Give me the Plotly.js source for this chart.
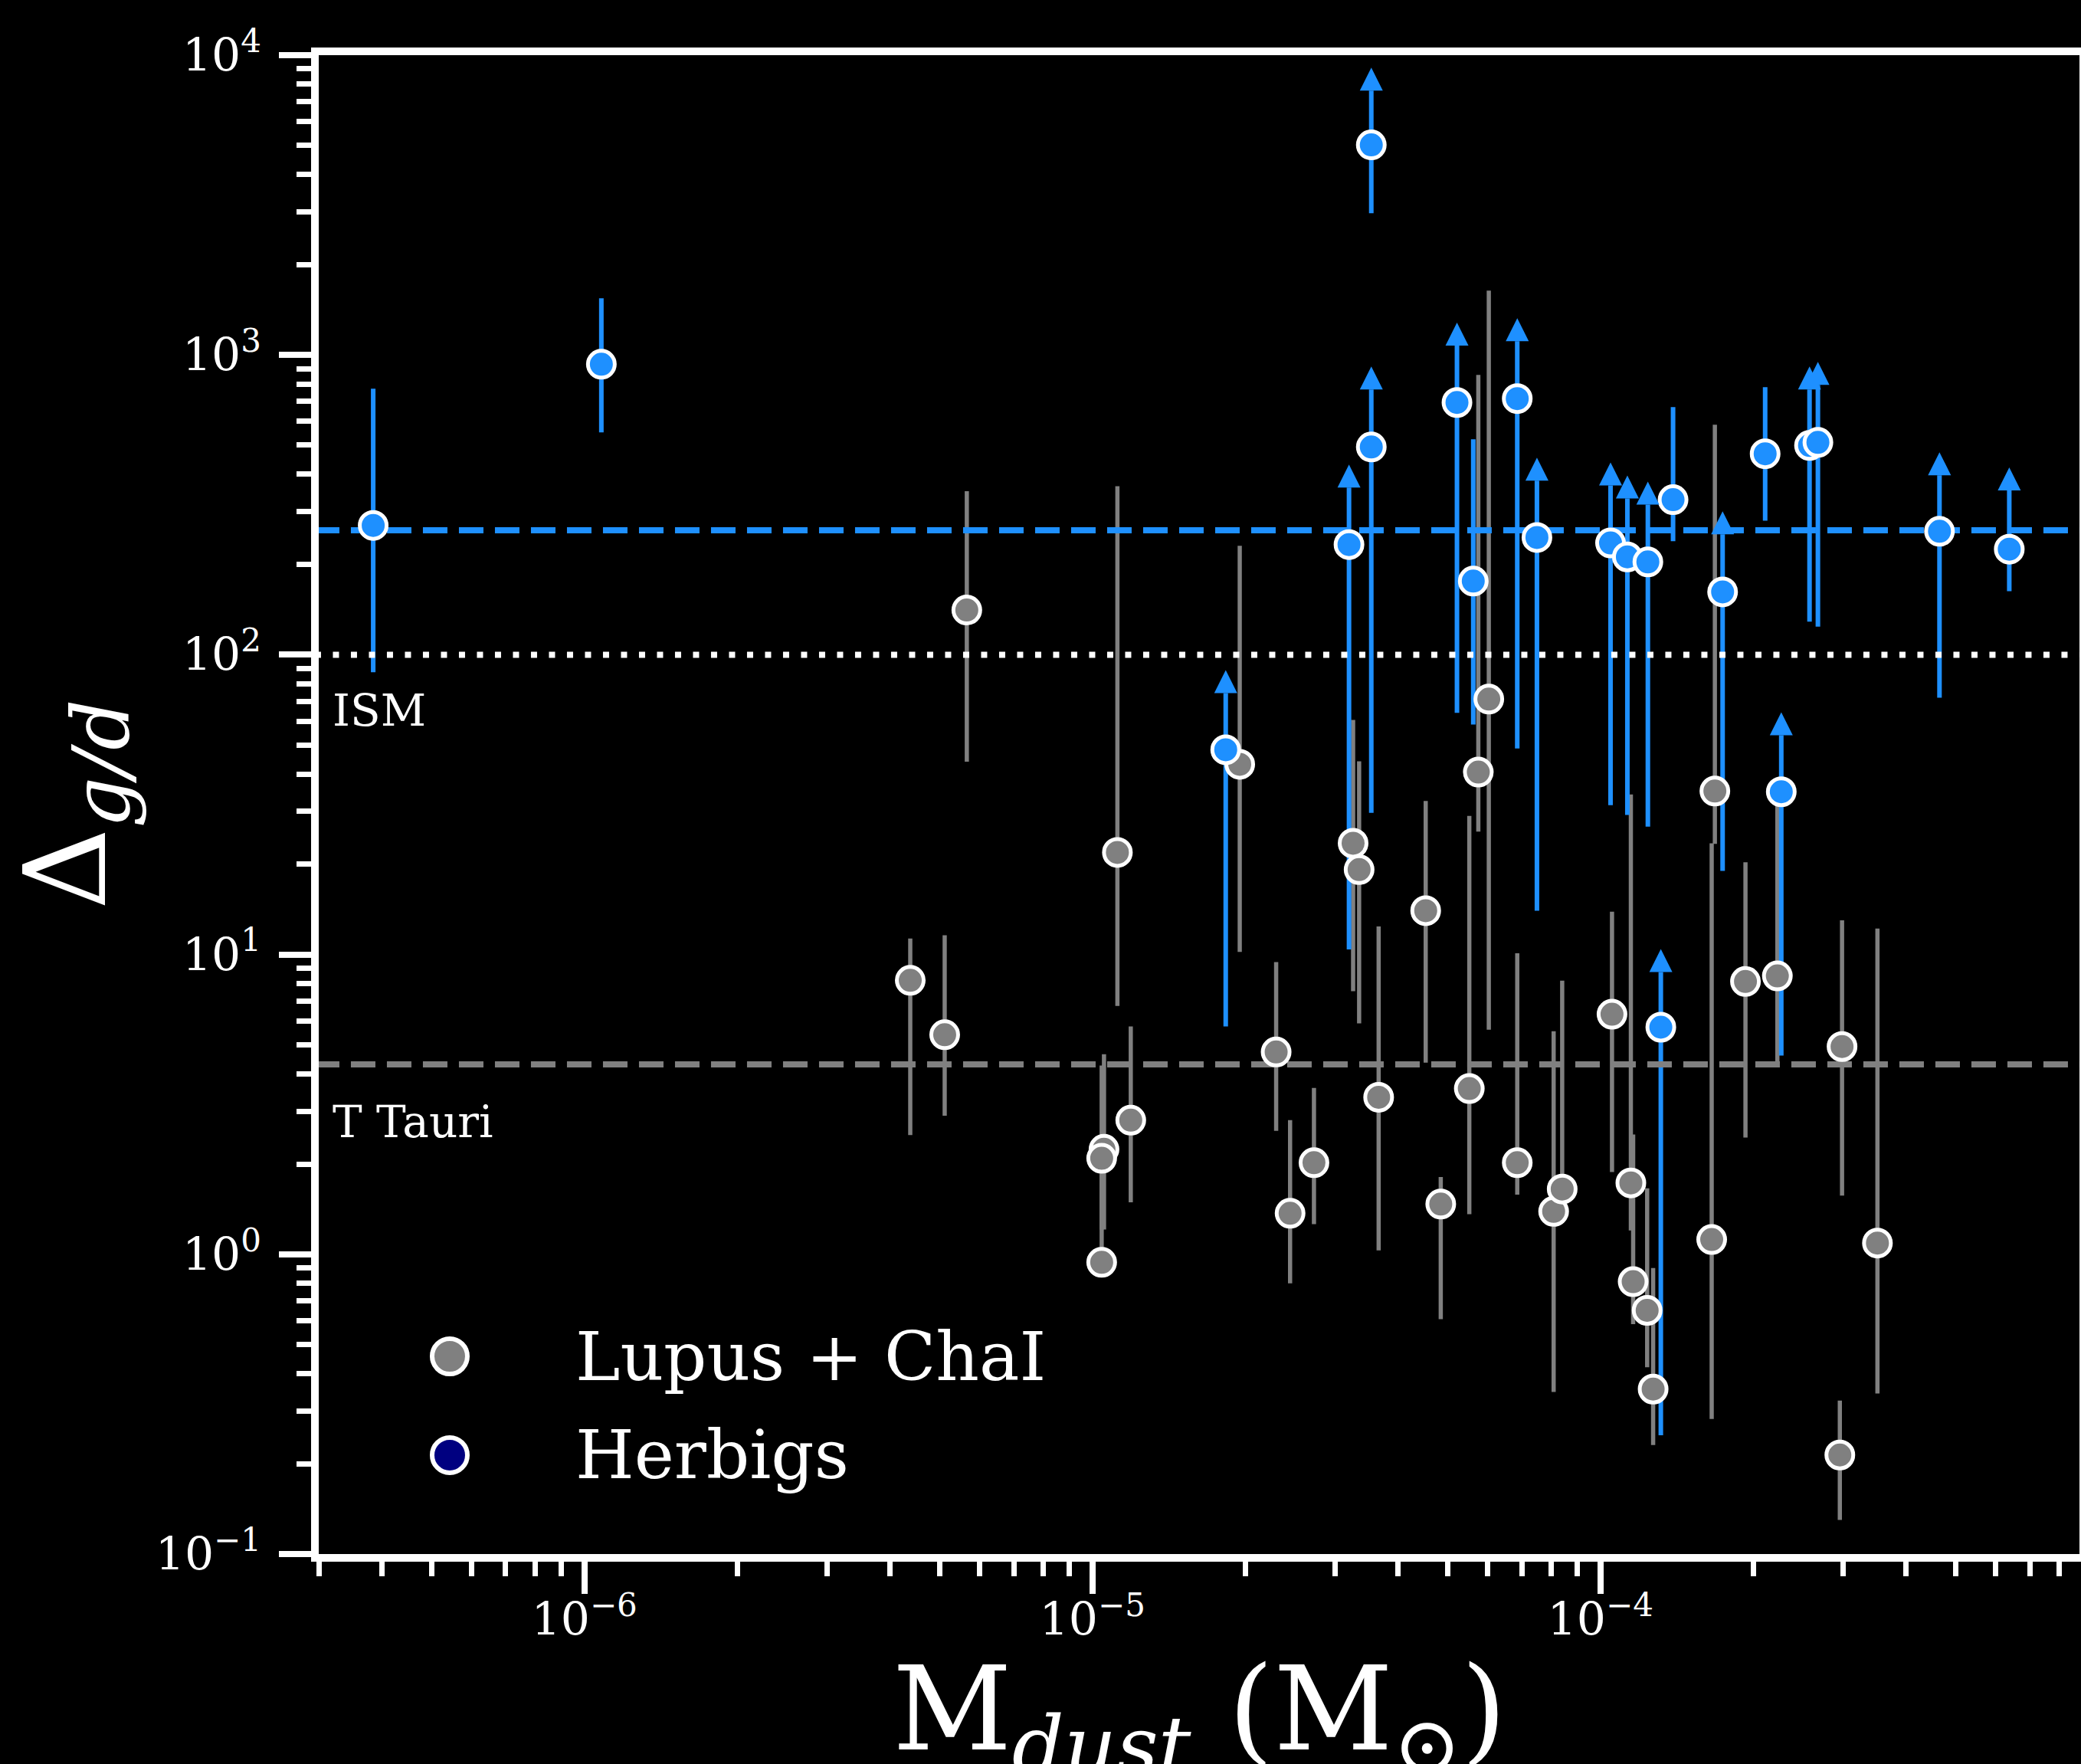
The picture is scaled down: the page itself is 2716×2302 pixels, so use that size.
<!DOCTYPE html>
<html>
<head>
<meta charset="utf-8">
<script src="https://cdn.plot.ly/plotly-3.0.1.min.js"></script>
<style>html,body{margin:0;padding:0;background:#000;}</style>
</head>
<body>
<div id="chart" style="width:2716px;height:2302px;"></div>
<script>
// ---------- data ----------
// Lupus + ChaI : dust mass, gas-to-dust ratio, error-bar bottom, error-bar top
const lupusMdust = [4.38e-6, 5.12e-6, 5.66e-6, 1.054e-5, 1.043e-5, 1.043e-5, 1.12e-5, 1.19e-5, 1.95e-5, 2.30e-5,
                    2.45e-5, 2.73e-5, 3.26e-5, 3.35e-5, 3.66e-5, 4.53e-5, 4.85e-5, 5.52e-5, 5.75e-5, 6.03e-5,
                    6.86e-5, 8.09e-5, 8.41e-5, 1.054e-4, 1.148e-4, 1.16e-4, 1.236e-4, 1.27e-4, 1.656e-4, 1.68e-4,
                    1.93e-4, 2.23e-4, 2.99e-4, 3.51e-4, 2.96e-4];
const lupusGD    = [8.2, 5.4, 141, 2.24, 2.09, 0.94, 21.9, 2.80, 43.1, 4.73,
                    1.37, 2.02, 23.5, 19.2, 3.34, 14.0, 1.47, 3.57, 40.6, 71.1,
                    2.02, 1.39, 1.65, 6.32, 1.73, 0.81, 0.65, 0.355, 1.12, 35.1,
                    8.13, 8.48, 4.93, 1.09, 0.214];
const lupusLow   = [2.5, 2.9, 44, 1.21, 1.21, 0.90, 6.74, 1.49, 10.2, 2.58,
                    0.80, 1.26, 7.54, 5.89, 1.03, 4.36, 0.607, 1.36, 25.7, 5.61,
                    1.58, 0.347, 1.55, 1.88, 1.2, 0.585, 0.42, 0.231, 0.282, 23.4,
                    2.45, 4.36, 1.57, 0.343, 0.130];
const lupusHigh  = [11.3, 11.6, 351, 4.65, 4.26, 1.9, 365, 5.75, 231, 9.43,
                    2.80, 3.59, 60.6, 44.1, 12.4, 32.5, 1.81, 29.0, 858, 1640,
                    10.1, 5.55, 8.18, 13.9, 34.2, 2.51, 1.66, 0.9, 23.5, 585,
                    20.3, 31.7, 13.0, 12.2, 0.325];

// Herbigs : dust mass, gas-to-dust ratio, error-bar bottom, error-bar top, lower limit flag
const herbigMdust = [3.84e-7, 1.08e-6, 3.54e-5, 3.54e-5, 3.20e-5, 5.22e-5, 5.62e-5, 6.86e-5, 7.50e-5, 1.047e-4,
                     1.13e-4, 1.24e-4, 1.39e-4, 1.74e-4, 2.11e-4, 2.58e-4, 2.68e-4, 4.65e-4, 6.38e-4, 1.83e-5,
                     1.315e-4, 2.27e-4];
const herbigGD    = [270, 931, 5020, 493, 233, 694, 176, 715, 246, 236,
                     212, 204, 329, 162, 468, 499, 511, 258, 225, 48.2,
                     5.72, 34.9];
const herbigLow   = [87.4, 552, 2972, 29.7, 10.4, 64, 58.5, 48.7, 14.0, 31.5,
                     29.2, 26.7, 239, 19.0, 280, 129, 124, 71.9, 163, 5.75,
                     0.249, 4.60];
const herbigHigh  = [772, 1546, 7620, 767, 361, 1074, 523, 1112, 381, 367,
                     332, 317, 670, 252, 781, 767, 795, 397, 353, 74.5,
                     8.74, 53.9];
const herbigLowerLimit = [0, 0, 1, 1, 1, 1, 0, 1, 1, 1,
                          1, 1, 0, 1, 0, 1, 1, 1, 1, 1,
                          1, 1];

// reference levels
const herbigMean = 260;
const ismLevel = 100;
const tTauriMean = 4.3;

// axis ranges and tick labels
const xRange = [3e-7, 8.77e-4];
const yRange = [1e-1, 1e4];
const xTickVals = [1e-6, 1e-5, 1e-4];
const xTickText = ['10<sup>−6</sup>', '10<sup>−5</sup>', '10<sup>−4</sup>'];
const yTickVals = [1e-1, 1e0, 1e1, 1e2, 1e3, 1e4];
const yTickText = ['10<sup>−1</sup>', '10<sup>0</sup>', '10<sup>1</sup>', '10<sup>2</sup>', '10<sup>3</sup>', '10<sup>4</sup>'];

const seriesNames = ['Lupus + ChaI', 'Herbigs'];
const refLabels = ['ISM', 'T Tauri'];
const xTitle = 'M<sub><i>dust</i></sub> (M<sub>⊙</sub>)';
const yTitle = 'Δ<sub><i>g/d</i></sub>';

// ---------- styles ----------
const GRAY = '#808080';
const BLUE = '#1E90FF';
const NAVY = '#000080';
const FONT = 'DejaVu Serif';

const plus  = (v, hi) => hi.map((h, i) => h - v[i]);
const minus = (v, lo) => lo.map((l, i) => v[i] - l);

const traces = [];

// error bars (drawn first, beneath reference lines)
traces.push({
  type: 'scatter', mode: 'markers', x: lupusMdust, y: lupusGD,
  marker: {size: 35, opacity: 0}, hoverinfo: 'skip', showlegend: false,
  error_y: {type: 'data', symmetric: false, array: plus(lupusGD, lupusHigh), arrayminus: minus(lupusGD, lupusLow),
            color: GRAY, thickness: 5.5, width: 0}
});
traces.push({
  type: 'scatter', mode: 'markers', x: herbigMdust, y: herbigGD,
  marker: {size: 35, opacity: 0}, hoverinfo: 'skip', showlegend: false,
  error_y: {type: 'data', symmetric: false, array: plus(herbigGD, herbigHigh), arrayminus: minus(herbigGD, herbigLow),
            color: BLUE, thickness: 6, width: 0}
});

// reference lines
const lineX = [xRange[0] / 10, xRange[1] * 10];
traces.push({type: 'scatter', mode: 'lines', x: lineX, y: [herbigMean, herbigMean], hoverinfo: 'skip', showlegend: false,
             line: {color: BLUE, width: 8, dash: '32px,15px'}});
traces.push({type: 'scatter', mode: 'lines', x: lineX, y: [ismLevel, ismLevel], hoverinfo: 'skip', showlegend: false,
             line: {color: '#ffffff', width: 8, dash: '8px,15.5px'}});
traces.push({type: 'scatter', mode: 'lines', x: lineX, y: [tTauriMean, tTauriMean], hoverinfo: 'skip', showlegend: false,
             line: {color: GRAY, width: 8, dash: '32px,15px'}});

// markers
traces.push({
  type: 'scatter', mode: 'markers', name: seriesNames[0], x: lupusMdust, y: lupusGD,
  marker: {size: 35, color: GRAY, line: {color: '#ffffff', width: 5}}
});
traces.push({
  type: 'scatter', mode: 'markers', name: seriesNames[1], x: herbigMdust, y: herbigGD,
  marker: {size: 35, color: BLUE, line: {color: '#ffffff', width: 5}}
});

// lower-limit arrow heads at the top of the Herbig error bars
const limX = herbigMdust.filter((_, i) => herbigLowerLimit[i]);
const limY = herbigHigh.filter((_, i) => herbigLowerLimit[i]);
traces.push({
  type: 'scatter', mode: 'markers', x: limX, y: limY, hoverinfo: 'skip', showlegend: false,
  marker: {symbol: 'arrow-down', angle: 180, standoff: 30, size: 30, color: BLUE, line: {width: 0}}
});

const axisCommon = {
  type: 'log', showline: true, linecolor: '#ffffff', linewidth: 10, mirror: true,
  ticks: 'outside', ticklen: 42, tickwidth: 8, tickcolor: '#ffffff',
  tickmode: 'array', showgrid: false, zeroline: false,
  tickfont: {family: FONT, size: 60, color: '#ffffff'},
  minor: {tickmode: 'linear', ticks: 'outside', ticklen: 19, tickwidth: 7, tickcolor: '#ffffff', dtick: 'D1', showgrid: false},
  automargin: false
};

const layout = {
  width: 2716, height: 2302,
  paper_bgcolor: '#000000', plot_bgcolor: '#000000',
  margin: {l: 416, r: 2, t: 72, b: 274, pad: 0},
  showlegend: false,
  font: {family: FONT, color: '#ffffff'},
  xaxis: Object.assign({}, axisCommon, {
    range: xRange.map(Math.log10),
    tickvals: xTickVals, ticktext: xTickText, ticklabelstandoff: -18
  }),
  yaxis: Object.assign({}, axisCommon, {
    range: yRange.map(Math.log10),
    tickvals: yTickVals, ticktext: yTickText, ticklabelstandoff: 11,
    title: {text: yTitle, font: {family: FONT, size: 148, color: '#ffffff'}, standoff: 22}
  }),
  shapes: [
    {type: 'circle', xref: 'paper', yref: 'paper', xsizemode: 'pixel', ysizemode: 'pixel',
     xanchor: 0.0744, yanchor: 0.1319, x0: -23, x1: 23, y0: -23, y1: 23,
     fillcolor: GRAY, line: {color: '#ffffff', width: 6}},
    {type: 'circle', xref: 'paper', yref: 'paper', xsizemode: 'pixel', ysizemode: 'pixel',
     xanchor: 0.0744, yanchor: 0.0660, x0: -23, x1: 23, y0: -23, y1: 23,
     fillcolor: NAVY, line: {color: '#ffffff', width: 6}}
  ],
  annotations: [
    // x-axis title (placed as an annotation so it can sit at the very bottom edge like the reference)
    {text: xTitle, xref: 'paper', x: 0.5, xanchor: 'center', yref: 'paper', y: 0, yanchor: 'top', yshift: -112,
     showarrow: false, font: {family: FONT, size: 152, color: '#ffffff'}},
    {text: refLabels[0], xref: 'paper', x: 0, xanchor: 'left', xshift: 16, yref: 'y', y: Math.log10(ismLevel),
     yanchor: 'top', yshift: -37, showarrow: false, font: {family: FONT, size: 58, color: '#ffffff'}},
    {text: refLabels[1], xref: 'paper', x: 0, xanchor: 'left', xshift: 16, yref: 'y', y: Math.log10(tTauriMean),
     yanchor: 'top', yshift: -39, showarrow: false, font: {family: FONT, size: 58, color: '#ffffff'}},
    {text: seriesNames[0], xref: 'paper', x: 0.1449, xanchor: 'left', yref: 'paper', y: 0.1319, yanchor: 'middle',
     showarrow: false, font: {family: FONT, size: 88, color: '#ffffff'}},
    {text: seriesNames[1], xref: 'paper', x: 0.1449, xanchor: 'left', yref: 'paper', y: 0.0660, yanchor: 'middle',
     showarrow: false, font: {family: FONT, size: 88, color: '#ffffff'}}
  ]
};

Plotly.newPlot('chart', traces, layout, {displayModeBar: false, staticPlot: true});
</script>
</body>
</html>
